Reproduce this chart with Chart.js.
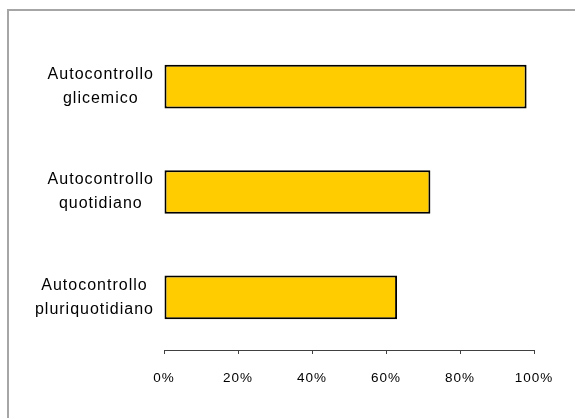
<!DOCTYPE html>
<html>
<head>
<meta charset="utf-8">
<script src="https://cdn.jsdelivr.net/npm/chart.js@4/dist/chart.umd.min.js"></script>
<style>
  html, body { margin: 0; padding: 0; background: #fff; overflow: hidden; }
  #wrap { position: relative; width: 575px; height: 418px; }
  #frame { position: absolute; left: 7px; top: 9px; width: 600px; height: 500px;
           border: 2px solid #a6a6a6; box-sizing: border-box; pointer-events: none; }
  canvas { position: absolute; left: 0; top: 0; }
</style>
</head>
<body>
<div id="wrap">
  <canvas id="c" width="575" height="418"></canvas>
  <div id="frame"></div>
</div>
<script>
const categories = [
  ["Autocontrollo", "glicemico"],
  ["Autocontrollo", "quotidiano"],
  ["Autocontrollo", "pluriquotidiano"]
];
const values = [98, 72, 63];
const tickValues = [0, 20, 40, 60, 80, 100];

const FONT_FAMILY = "'Liberation Sans', Arial, sans-serif";
const Y_FONT_SIZE = 16;
const X_FONT_SIZE = 13.5;
const Y_PAD = 10;
const SPACING = '1px';

const centerLines = {
  id: 'centerLines',
  beforeDraw(chart) {
    const s = chart.scales.y;
    const items = s.getLabelItems();
    const ctx = chart.ctx;
    ctx.letterSpacing = SPACING;
    ctx.save();
    ctx.font = Y_FONT_SIZE + 'px ' + FONT_FAMILY;
    items.forEach(it => {
      const lines = Array.isArray(it.label) ? it.label : [it.label];
      const w = Math.max(...lines.map(l => ctx.measureText(l).width));
      it.options.textAlign = 'center';
      it.options.translation[0] = s.right - Y_PAD - w / 2;
    });
    ctx.restore();
  }
};

new Chart(document.getElementById('c'), {
  type: 'bar',
  data: {
    labels: categories,
    datasets: [{
      data: values,
      backgroundColor: '#FFCC00',
      borderColor: '#000000',
      borderWidth: 2,
      borderSkipped: false,
      barPercentage: 0.415,
      categoryPercentage: 1.0
    }]
  },
  options: {
    indexAxis: 'y',
    responsive: false,
    animation: false,
    devicePixelRatio: 1,
    layout: { padding: { left: 0, right: 41, top: 34, bottom: 20 } },
    plugins: { legend: { display: false }, tooltip: { enabled: false } },
    scales: {
      x: {
        min: 0, max: 100,
        afterBuildTicks(scale) { scale.ticks = tickValues.map(v => ({ value: v })); },
        afterFit(scale) { scale.height = 48; scale.paddingLeft = 0; scale.paddingRight = 0; },
        grid: { drawOnChartArea: false, drawTicks: true, tickLength: 4, color: '#404040', lineWidth: 1 },
        border: { display: true, color: '#404040', width: 1 },
        ticks: {
          padding: 16,
          color: '#000',
          font: { family: FONT_FAMILY, size: X_FONT_SIZE },
          callback: v => v + '%',
          maxRotation: 0
        }
      },
      y: {
        grid: { display: false, drawTicks: false },
        border: { display: false },
        afterFit(scale) { scale.width = 164; scale.paddingTop = 0; scale.paddingBottom = 0; },
        ticks: {
          padding: Y_PAD,
          color: '#000',
          font: { family: FONT_FAMILY, size: Y_FONT_SIZE, lineHeight: 1.5 }
        }
      }
    }
  },
  plugins: [centerLines]
});
</script>
</body>
</html>
